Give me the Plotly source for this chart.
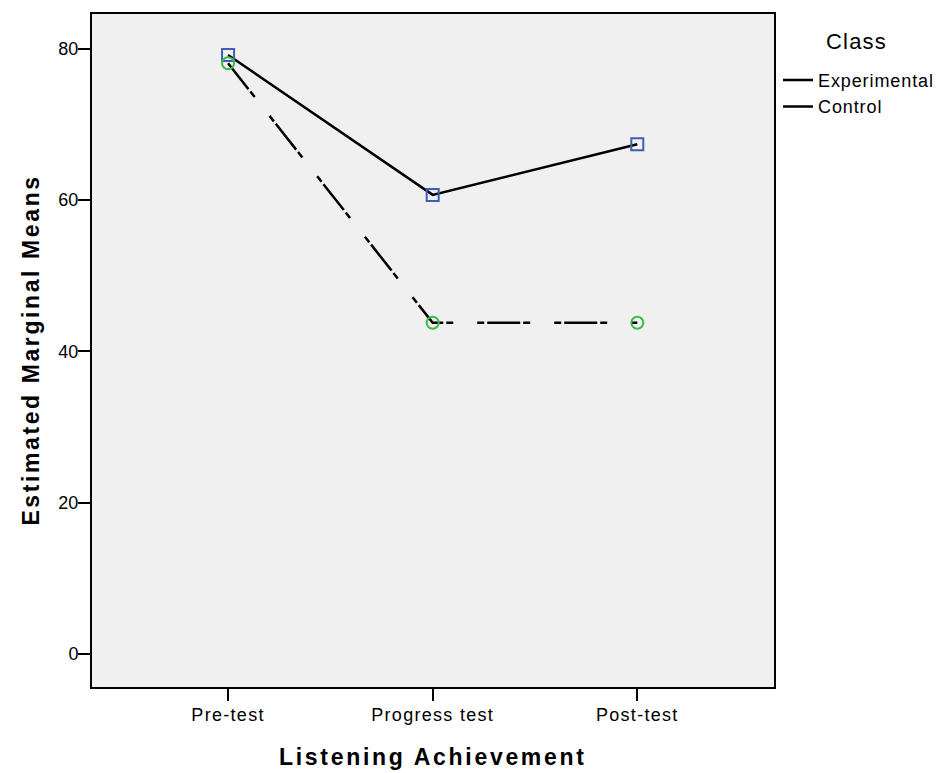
import plotly.graph_objects as go

categories = ["Pre-test", "Progress test", "Post-test"]
experimental = [79.2, 60.7, 67.4]
control = [78.1, 43.8, 43.8]
y_ticks = [0, 20, 40, 60, 80]
series_names = ["Experimental", "Control"]

FONT = "Liberation Sans, Arial, sans-serif"
CTRL_DASH = "33px,3px,7px,24px,7px,3px"

# page body has an 8px default margin; figure is sized/offset to compensate
W, H = 935, 765
ML, MT = 84, 4
PW, PH = 683, 675
MR = W - ML - PW
MB = H - MT - PH


def sp(text, px):
    return f"<span style='letter-spacing:{px}px'>{text}</span>"


fig = go.Figure()

fig.add_trace(go.Scatter(
    x=categories, y=experimental, mode="lines+markers", showlegend=False,
    line=dict(color="black", width=2.5),
    marker=dict(symbol="square-open", size=12, color="#3f5cb8", line=dict(width=2, color="#3f5cb8")),
))
fig.add_trace(go.Scatter(
    x=categories, y=control, mode="lines+markers", showlegend=False,
    line=dict(color="black", width=2.5, dash=CTRL_DASH),
    marker=dict(symbol="circle-open", size=12, color="#3cba48", line=dict(width=2, color="#3cba48")),
))

fig.add_trace(go.Scatter(x=[None], y=[None], mode="lines", name=sp(series_names[0], 0.9),
                         line=dict(color="black", width=2.5)))
fig.add_trace(go.Scatter(x=[None], y=[None], mode="lines", name=sp(series_names[1], 0.9),
                         line=dict(color="black", width=2.5, dash=CTRL_DASH)))

fig.update_layout(
    width=W, height=H,
    margin=dict(l=ML, r=MR, t=MT, b=MB),
    paper_bgcolor="white",
    plot_bgcolor="#f0f0f0",
    font=dict(family=FONT, color="black", size=18),
    legend=dict(
        x=1.0 + 4 / PW, xanchor="left", y=0.929, yanchor="top",
        bgcolor="rgba(0,0,0,0)", font=dict(size=18, family=FONT),
        traceorder="normal",
    ),
    annotations=[
        dict(text=sp("Class", 1.2), xref="paper", yref="paper",
             x=1 + (858 - 775) / PW, y=1 - (40 - 12) / PH,
             xanchor="center", yanchor="middle",
             showarrow=False, font=dict(size=22, family=FONT)),
        dict(text=sp("<b>Listening Achievement</b>", 2.7), xref="paper", yref="paper",
             x=0.5, y=-(757 - 687) / PH, xanchor="center", yanchor="middle",
             showarrow=False, font=dict(size=23, family=FONT)),
        dict(text=sp("<b>Estimated Marginal Means</b>", 2.6), xref="paper", yref="paper",
             x=-(92 - 30) / PW, y=0.5, xanchor="center", yanchor="middle", textangle=-90,
             showarrow=False, font=dict(size=23, family=FONT)),
    ],
)

fig.update_xaxes(
    type="category", range=[-0.665, 2.668],
    tickvals=categories, ticktext=[sp(c, 1.3) for c in categories],
    ticks="outside", ticklen=12, tickwidth=2, tickcolor="black",
    ticklabelstandoff=-2,
    showline=True, linecolor="black", linewidth=2, mirror=True,
    showgrid=False, zeroline=False, tickfont=dict(size=18, family=FONT),
)
fig.update_yaxes(
    range=[-4.35, 84.61],
    tickvals=y_ticks, ticktext=[str(v) for v in y_ticks],
    ticks="outside", ticklen=12, tickwidth=2, tickcolor="black",
    ticklabelstandoff=-4,
    showline=True, linecolor="black", linewidth=2, mirror=True,
    showgrid=False, zeroline=False, tickfont=dict(size=18, family=FONT),
)

fig.write_html("out.html")
